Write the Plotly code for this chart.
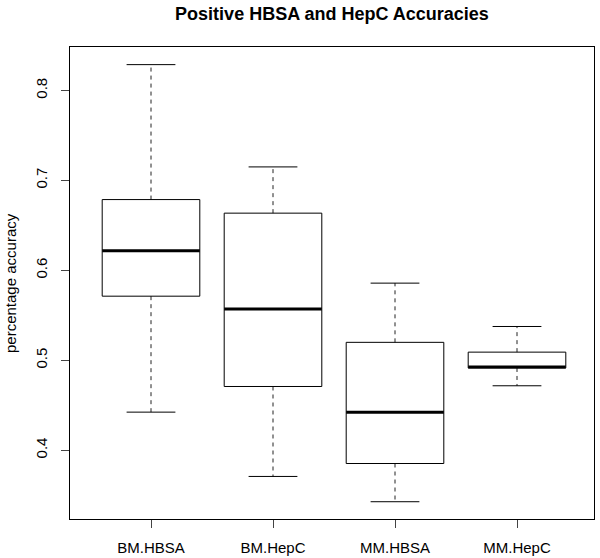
import plotly.graph_objects as go

categories = ["BM.HBSA", "BM.HepC", "MM.HBSA", "MM.HepC"]
lower_whisker = [0.4424, 0.3709, 0.3428, 0.4717]
q1_values = [0.5713, 0.4709, 0.3853, 0.4915]
median_values = [0.6217, 0.5570, 0.4424, 0.4925]
q3_values = [0.6787, 0.6636, 0.5200, 0.5091]
upper_whisker = [0.8287, 0.7150, 0.5858, 0.5376]
y_ticks = [0.4, 0.5, 0.6, 0.7, 0.8]

FONT = "Liberation Sans, Arial, Helvetica, sans-serif"
half_box = 0.4
half_cap = 0.2

box_x, box_y = [], []
wh_x, wh_y = [], []
med_x, med_y = [], []
for i, _ in enumerate(categories):
    c = i + 1
    lo, q1, md, q3, up = lower_whisker[i], q1_values[i], median_values[i], q3_values[i], upper_whisker[i]
    box_x += [c - half_box, c + half_box, c + half_box, c - half_box, c - half_box, None]
    box_y += [q1, q1, q3, q3, q1, None]
    box_x += [c - half_cap, c + half_cap, None, c - half_cap, c + half_cap, None]
    box_y += [up, up, None, lo, lo, None]
    wh_x += [c, c, None, c, c, None]
    wh_y += [q3, up, None, q1, lo, None]
    med_x += [c - half_box, c + half_box, None]
    med_y += [md, md, None]

fig = go.Figure()
fig.add_trace(go.Scatter(x=wh_x, y=wh_y, mode="lines", hoverinfo="skip",
                         line=dict(color="#222222", width=1, dash="4px,4px")))
fig.add_trace(go.Scatter(x=box_x, y=box_y, mode="lines", hoverinfo="skip",
                         line=dict(color="black", width=1)))
fig.add_trace(go.Scatter(x=med_x, y=med_y, mode="lines", hoverinfo="skip",
                         line=dict(color="black", width=3)))

W, H = 600, 558
L, T, R, B = 70, 47, 6, 39
plot_w = W - L - R

fig.update_layout(
    width=W, height=H,
    margin=dict(l=L, r=R, t=T, b=B, pad=0, autoexpand=False),
    paper_bgcolor="white", plot_bgcolor="white",
    showlegend=False,
    font=dict(family=FONT, size=15, color="black"),
    title=dict(text="<b>Positive HBSA and HepC Accuracies</b>",
               x=(L + plot_w / 2) / W, xanchor="center",
               y=1 - 14 / H, yanchor="middle",
               font=dict(family=FONT, size=18, color="black")),
    xaxis=dict(range=[1 - (151 - 70) / 122, 1 + (594 - 151) / 122],
               tickvals=[1, 2, 3, 4], ticktext=categories,
               showgrid=False, zeroline=False, automargin=False,
               showline=True, mirror=True, linecolor="black", linewidth=1,
               ticks="outside", ticklen=8, tickcolor="#444444", tickwidth=1,
               ticklabelstandoff=7,
               tickfont=dict(family=FONT, size=15, color="black")),
    yaxis=dict(range=[0.3236, 0.8483], tickvals=y_ticks,
               ticktext=[str(v) for v in y_ticks],
               showgrid=False, zeroline=False, automargin=False,
               showline=True, mirror=True, linecolor="black", linewidth=1,
               ticks="outside", ticklen=8, tickcolor="#444444", tickwidth=1,
               tickangle=-90, ticklabelstandoff=8,
               tickfont=dict(family=FONT, size=15, color="black")),
    annotations=[dict(text="percentage accuracy", textangle=-90,
                      xref="paper", yref="paper",
                      x=(10 - L) / plot_w, y=0.5, xanchor="center", yanchor="middle",
                      showarrow=False, font=dict(family=FONT, size=15, color="black"))],
)

fig.write_html("out.html",
               config={"displayModeBar": False, "staticPlot": True},
               post_script="document.body.style.margin='0';document.body.style.overflow='hidden';")
